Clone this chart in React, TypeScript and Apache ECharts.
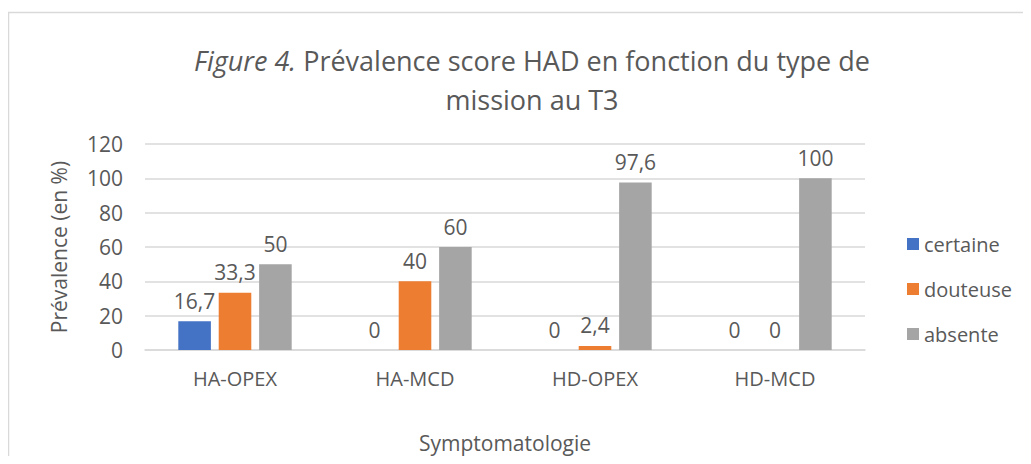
import React, { useEffect, useRef } from "react";
import * as echarts from "echarts";

const categories = ["HA-OPEX", "HA-MCD", "HD-OPEX", "HD-MCD"];
const certaine = [16.7, 0, 0, 0];
const douteuse = [33.3, 40, 2.4, 0];
const absente = [50, 60, 97.6, 100];
const seriesNames = ["certaine", "douteuse", "absente"];
const colors = ["#4472C4", "#ED7D31", "#A5A5A5"];
const yTicks = { min: 0, max: 120, interval: 20 };

const FONT = "'Open Sans', 'Noto Sans', sans-serif";
const TXT = "#595959";

export default function App() {
  const ref = useRef<HTMLDivElement>(null);
  useEffect(() => {
    const chart = echarts.init(ref.current!, null, { renderer: "svg" });
    const fmt = (p: any) => String(p.value).replace(".", ",");
    const data = [certaine, douteuse, absente];
    chart.setOption({
      animation: false,
      textStyle: { fontFamily: FONT },
      graphic: [
        {
          type: "rect",
          shape: { x: 8.5, y: 12.5, width: 1040, height: 470 },
          style: { fill: "#fff", stroke: "#d9d9d9", lineWidth: 1.5 },
          z: -10,
        },
      ],
      title: {
        text: "{i|Figure 4.} Prévalence score HAD en fonction du type de\nmission au T3",
        left: 527,
        textAlign: "center",
        top: 36,
        textStyle: {
          fontFamily: FONT,
          fontWeight: "normal",
          fontSize: 27,
          color: TXT,
          lineHeight: 39,
          rich: {
            i: { fontStyle: "italic", fontSize: 27, color: TXT, fontFamily: FONT, lineHeight: 39 },
          },
        },
      },
      legend: {
        orient: "vertical",
        left: 902,
        top: 229,
        itemGap: 25,
        itemWidth: 12,
        itemHeight: 12,
        icon: "rect",
        data: seriesNames,
        textStyle: { color: TXT, fontSize: 20, fontFamily: FONT },
      },
      grid: { left: 145, right: 166, top: 144, bottom: 114 },
      xAxis: {
        type: "category",
        data: categories,
        name: "Symptomatologie",
        nameLocation: "middle",
        nameGap: 82,
        nameTextStyle: { color: TXT, fontSize: 21, fontFamily: FONT },
        axisLine: { lineStyle: { color: "#d9d9d9", width: 1.5 } },
        axisTick: { show: false },
        axisLabel: { color: TXT, fontSize: 20, margin: 18, fontFamily: FONT },
      },
      yAxis: {
        type: "value",
        min: yTicks.min,
        max: yTicks.max,
        interval: yTicks.interval,
        name: "Prévalence (en %)",
        nameLocation: "middle",
        nameGap: 76,
        nameTextStyle: { color: TXT, fontSize: 21, fontFamily: FONT },
        axisLine: { show: false },
        axisTick: { show: false },
        axisLabel: { color: TXT, fontSize: 21, margin: 22, fontFamily: FONT },
        splitLine: { lineStyle: { color: "#d9d9d9", width: 1.5 } },
      },
      series: seriesNames.map((n, i) => ({
        name: n,
        type: "bar",
        data: data[i],
        barGap: "24%",
        barCategoryGap: "37%",
        itemStyle: { color: colors[i] },
        label: {
          show: true,
          position: "top",
          formatter: fmt,
          color: TXT,
          fontSize: 21,
          fontFamily: FONT,
          distance: 10,
        },
      })),
    });
    return () => chart.dispose();
  }, []);
  return <div ref={ref} style={{ width: 1031, height: 464, margin: -8 }} />;
}
